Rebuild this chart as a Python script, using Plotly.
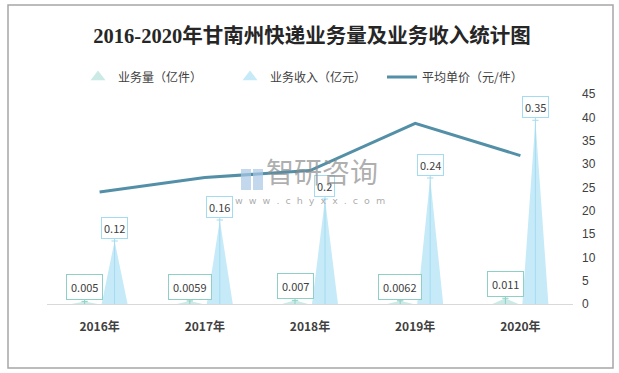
import plotly.graph_objects as go

# ---- data ----
years = ["2016年", "2017年", "2018年", "2019年", "2020年"]
volume = [0.005, 0.0059, 0.007, 0.0062, 0.011]      # 业务量（亿件）
revenue = [0.12, 0.16, 0.2, 0.24, 0.35]             # 业务收入（亿元）
avg_price = [24.0, 27.1, 28.6, 38.7, 31.8]          # 平均单价（元/件）
vol_labels = ["0.005", "0.0059", "0.007", "0.0062", "0.011"]
rev_labels = ["0.12", "0.16", "0.2", "0.24", "0.35"]

# ---- layout constants ----
W, H = 619, 373
ML, MR, MT, MB = 47, 46, 94, 69
PW, PH = W - ML - MR, H - MT - MB
OFF = 0.1425   # bar offset from category centre
HW = 0.1235    # half width of triangle base

VOL_FILL, VOL_LINE = "#CBEAE6", "#8FD0C6"
REV_FILL, REV_LINE = "#C6EAF8", "#A3DCF1"
LINE_COL = "#5390A7"
TXT = "#404040"
FONT = "Noto Sans CJK SC, Noto Sans, sans-serif"

idx = list(range(len(years)))

def triangles(values, off):
    xs, ys = [], []
    for i, v in zip(idx, values):
        c = i + off
        xs += [c - HW, c, c + HW, c - HW, None]
        ys += [0, v, 0, 0, None]
    return xs, ys

def stems(values, off, tick=0.03):
    xs, ys = [], []
    for i, v in zip(idx, values):
        c = i + off
        xs += [c, c, None, c - tick, c + tick, None]
        ys += [0, v, None, v, v, None]
    return xs, ys

fig = go.Figure()

vx, vy = triangles(volume, -OFF)
fig.add_trace(go.Scatter(x=vx, y=vy, fill="toself", fillcolor=VOL_FILL, mode="lines",
                         line=dict(width=0, color=VOL_FILL), showlegend=False, hoverinfo="skip"))
rx, ry = triangles(revenue, OFF)
fig.add_trace(go.Scatter(x=rx, y=ry, fill="toself", fillcolor=REV_FILL, mode="lines",
                         line=dict(width=0, color=REV_FILL), showlegend=False, hoverinfo="skip"))
sx, sy = stems(revenue, OFF)
fig.add_trace(go.Scatter(x=sx, y=sy, mode="lines", line=dict(width=1, color=REV_LINE),
                         showlegend=False, hoverinfo="skip"))
tx, ty = stems(volume, -OFF)
fig.add_trace(go.Scatter(x=tx, y=ty, mode="lines", line=dict(width=1, color=VOL_LINE),
                         showlegend=False, hoverinfo="skip"))

# legend entries
fig.add_trace(go.Scatter(x=[None], y=[None], mode="markers", name="业务量（亿件）",
                         marker=dict(symbol="triangle-up", size=13, color=VOL_FILL)))
fig.add_trace(go.Scatter(x=[None], y=[None], mode="markers", name="业务收入（亿元）",
                         marker=dict(symbol="triangle-up", size=13, color=REV_FILL)))
fig.add_trace(go.Scatter(x=idx, y=avg_price, mode="lines", name="平均单价（元/件）",
                         line=dict(color=LINE_COL, width=3), yaxis="y2"))

# data labels
for i in idx:
    fig.add_annotation(x=i + OFF, y=revenue[i], xref="x", yref="y", text=rev_labels[i],
                       showarrow=True, arrowhead=0, arrowwidth=1, arrowcolor=REV_LINE,
                       ax=0, ay=-13, standoff=0,
                       font=dict(size=11, color=TXT, family=FONT),
                       bgcolor="white", bordercolor=REV_LINE, borderwidth=1, borderpad=2)
    fig.add_annotation(x=i - OFF, y=volume[i], xref="x", yref="y", text=vol_labels[i],
                       showarrow=True, arrowhead=0, arrowwidth=1, arrowcolor=VOL_LINE,
                       ax=0, ay=-14, standoff=0,
                       font=dict(size=11, color=TXT, family=FONT),
                       bgcolor="white", bordercolor=VOL_LINE, borderwidth=1, borderpad=4)

def px(x):
    return (x - ML) / PW

def py(y):
    return (H - MB - y) / PH

# watermark
fig.add_annotation(x=px(322), y=py(193), xref="paper", yref="paper", text="智研咨询",
                   showarrow=False, yanchor="bottom",
                   font=dict(size=28, color="rgba(140,140,140,0.7)", family=FONT))
fig.add_annotation(x=px(310), y=py(193), xref="paper", yref="paper",
                   text="w  w  w  .  c  h  y  x  x  .  c  o  m",
                   showarrow=False, yanchor="top",
                   font=dict(size=9.5, color="rgba(150,150,150,0.8)", family="DejaVu Sans"))
fig.add_shape(type="rect", xref="paper", yref="paper", x0=px(241), x1=px(251), y0=py(190), y1=py(169),
              line=dict(width=0), fillcolor="rgba(170,200,230,0.7)")
fig.add_shape(type="rect", xref="paper", yref="paper", x0=px(253), x1=px(263), y0=py(190), y1=py(169),
              line=dict(width=0), fillcolor="rgba(170,200,230,0.7)")

# outer frame
fig.add_shape(type="rect", xref="paper", yref="paper", x0=px(8), x1=px(613), y0=py(368), y1=py(5),
              line=dict(width=1.5, color="#A6A6A6"), fillcolor="rgba(0,0,0,0)", layer="below")

fig.update_layout(
    width=W, height=H,
    margin=dict(l=ML, r=MR, t=MT, b=MB),
    paper_bgcolor="white", plot_bgcolor="white",
    title=dict(text="<b>2016-2020年甘南州快递业务量及业务收入统计图</b>",
               x=312 / W, xanchor="center", y=1 - 36 / H, yanchor="middle",
               font=dict(size=20.5, color="#262626", family="Liberation Serif, Noto Sans CJK SC, serif")),
    legend=dict(orientation="h", x=px(78), xanchor="left", y=py(77), yanchor="middle",
                font=dict(size=12, color=TXT, family=FONT), bgcolor="rgba(0,0,0,0)",
                itemwidth=30, entrywidth=107, entrywidthmode="pixels"),
    xaxis=dict(range=[-0.5, len(years) - 0.5], tickvals=idx, ticktext=years,
               showgrid=False, zeroline=False, showline=True, linecolor="#D9D9D9", linewidth=1,
               ticks="", ticklabelstandoff=12,
               tickfont=dict(size=12, color=TXT, family=FONT, weight="bold")),
    yaxis=dict(range=[0, 0.4], visible=False, showgrid=False, zeroline=False),
    yaxis2=dict(range=[0, 45], dtick=5, overlaying="y", side="right", showgrid=False,
                zeroline=False, showline=False, ticks="", ticklabelstandoff=8,
                tickfont=dict(size=12, color=TXT, family="Liberation Sans, sans-serif")),
    showlegend=True,
)

fig.write_html("out.html", config={"displayModeBar": False},
               post_script="document.body.style.margin='0';")
